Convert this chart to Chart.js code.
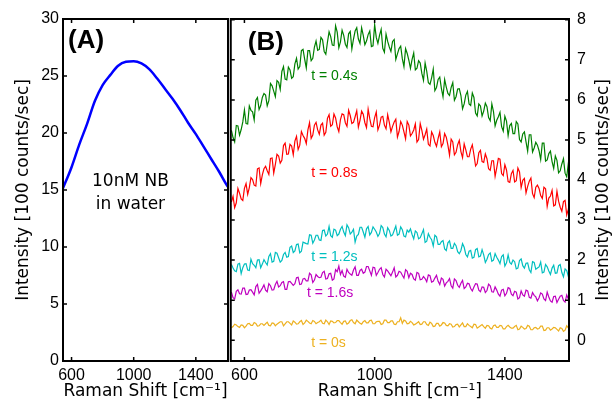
<!DOCTYPE html>
<html>
<head>
<meta charset="utf-8">
<script src="https://cdn.jsdelivr.net/npm/chart.js@4.4.1/dist/chart.umd.min.js"></script>
<style>
  body { margin: 0; background: #fff; }
  #wrap { position: relative; width: 612px; height: 407px; }
  canvas { position: absolute; top: 0; }
  #chartA { left: 0; }
  #chartB { left: 226px; }
</style>
</head>
<body>
<div id="wrap">
  <canvas id="chartA" width="230" height="407"></canvas>
  <canvas id="chartB" width="386" height="407"></canvas>
</div>
<script>
/* ---------------------------------- data ---------------------------------- */

// panel A : 10nM NB in water
let shiftA = [540, 600, 650, 700, 750, 800, 850, 900, 950, 1000, 1050, 1100,
    1150, 1200, 1250, 1300, 1350, 1400, 1450, 1500, 1550, 1600, 1620]
let blueA = [15.0, 17.0, 19.0, 20.8, 22.8, 24.2, 25.1, 25.9, 26.25, 26.3, 26.1, 25.6,
    24.8, 23.9, 23.0, 22.0, 20.9, 19.9, 18.8, 17.7, 16.6, 15.4, 15.0]

// panel B : spectra at different times (one value every 5 cm-1)
let shiftB = [560, 565, 570, 575, 580, 585, 590, 595, 600, 605, 610, 615, 620, 625, 630, 635, 640, 645, 650, 655,
    660, 665, 670, 675, 680, 685, 690, 695, 700, 705, 710, 715, 720, 725, 730, 735, 740, 745, 750, 755,
    760, 765, 770, 775, 780, 785, 790, 795, 800, 805, 810, 815, 820, 825, 830, 835, 840, 845, 850, 855,
    860, 865, 870, 875, 880, 885, 890, 895, 900, 905, 910, 915, 920, 925, 930, 935, 940, 945, 950, 955,
    960, 965, 970, 975, 980, 985, 990, 995, 1000, 1005, 1010, 1015, 1020, 1025, 1030, 1035, 1040, 1045, 1050, 1055,
    1060, 1065, 1070, 1075, 1080, 1085, 1090, 1095, 1100, 1105, 1110, 1115, 1120, 1125, 1130, 1135, 1140, 1145, 1150, 1155,
    1160, 1165, 1170, 1175, 1180, 1185, 1190, 1195, 1200, 1205, 1210, 1215, 1220, 1225, 1230, 1235, 1240, 1245, 1250, 1255,
    1260, 1265, 1270, 1275, 1280, 1285, 1290, 1295, 1300, 1305, 1310, 1315, 1320, 1325, 1330, 1335, 1340, 1345, 1350, 1355,
    1360, 1365, 1370, 1375, 1380, 1385, 1390, 1395, 1400, 1405, 1410, 1415, 1420, 1425, 1430, 1435, 1440, 1445, 1450, 1455,
    1460, 1465, 1470, 1475, 1480, 1485, 1490, 1495, 1500, 1505, 1510, 1515, 1520, 1525, 1530, 1535, 1540, 1545, 1550, 1555,
    1560, 1565, 1570, 1575, 1580, 1585, 1590, 1595, 1600]

let t04 = [5.24, 5.06, 4.95, 5.36, 5.35, 5.12, 5.26, 5.45, 5.75, 5.41, 5.40, 5.85, 5.74, 5.70, 5.50, 5.99, 6.06, 5.76, 5.86, 6.06,
    6.16, 6.12, 5.85, 5.98, 6.41, 6.35, 6.22, 6.08, 6.48, 6.44, 6.26, 6.71, 6.83, 6.52, 6.50, 6.82, 6.75, 6.54, 6.58, 6.90,
    7.04, 6.77, 6.83, 7.23, 7.26, 7.02, 6.80, 7.23, 7.23, 6.98, 7.04, 7.32, 7.47, 7.24, 7.26, 7.56, 7.50, 7.21, 7.14, 7.44,
    7.70, 7.58, 7.37, 7.36, 7.85, 7.69, 7.30, 7.45, 7.74, 7.61, 7.39, 7.31, 7.65, 7.71, 7.27, 7.52, 7.72, 7.80, 7.52, 7.41,
    7.80, 7.61, 7.38, 7.47, 7.63, 7.72, 7.33, 7.35, 7.88, 7.56, 7.41, 7.61, 7.76, 7.29, 7.19, 7.64, 7.46, 7.32, 7.21, 7.46,
    7.51, 7.01, 7.15, 7.28, 7.34, 7.03, 6.83, 7.28, 7.16, 6.99, 6.79, 7.01, 7.17, 6.75, 6.79, 6.98, 6.92, 6.66, 6.49, 6.92,
    6.71, 6.43, 6.39, 6.55, 6.77, 6.23, 6.31, 6.51, 6.57, 6.29, 6.08, 6.51, 6.32, 6.16, 6.11, 6.31, 6.43, 5.99, 6.08, 6.27,
    6.28, 6.11, 5.78, 5.90, 6.12, 6.21, 5.90, 5.86, 6.17, 6.06, 5.67, 5.60, 5.90, 5.85, 5.60, 5.72, 5.92, 5.83, 5.56, 5.48,
    5.90, 5.71, 5.35, 5.49, 5.58, 5.69, 5.33, 5.22, 5.59, 5.47, 5.11, 5.36, 5.41, 5.16, 5.16, 5.46, 5.40, 5.01, 4.95, 5.15,
    5.20, 4.95, 4.72, 5.13, 5.13, 4.70, 4.80, 4.94, 4.87, 4.73, 4.51, 4.92, 4.92, 4.47, 4.50, 4.66, 4.72, 4.46, 4.29, 4.60,
    4.49, 4.18, 4.23, 4.40, 4.53, 4.17, 4.08, 4.42, 4.31]

let t08 = [3.45, 3.59, 3.31, 3.43, 3.79, 3.67, 3.53, 3.49, 3.79, 3.91, 3.64, 3.81, 4.06, 4.01, 3.87, 3.85, 4.28, 4.30, 3.91, 4.13,
    4.28, 4.34, 4.23, 4.14, 4.54, 4.55, 4.17, 4.39, 4.64, 4.60, 4.42, 4.49, 4.86, 4.92, 4.64, 4.65, 4.89, 4.85, 4.63, 4.97,
    5.09, 4.76, 4.87, 5.21, 5.11, 5.04, 4.91, 5.25, 5.43, 5.04, 5.12, 5.37, 5.44, 5.25, 5.14, 5.37, 5.42, 5.12, 5.19, 5.54,
    5.63, 5.34, 5.38, 5.65, 5.55, 5.33, 5.21, 5.51, 5.65, 5.63, 5.43, 5.34, 5.74, 5.61, 5.41, 5.44, 5.58, 5.73, 5.32, 5.49,
    5.72, 5.64, 5.43, 5.31, 5.77, 5.53, 5.34, 5.33, 5.56, 5.70, 5.25, 5.37, 5.57, 5.59, 5.37, 5.28, 5.63, 5.44, 5.20, 5.34,
    5.45, 5.52, 5.07, 5.21, 5.46, 5.37, 5.20, 5.03, 5.46, 5.37, 5.10, 5.16, 5.25, 5.40, 4.95, 5.01, 5.41, 5.24, 5.02, 5.13,
    5.27, 4.89, 4.85, 5.20, 5.11, 4.94, 4.84, 5.04, 5.20, 4.83, 4.91, 5.16, 5.07, 4.87, 4.62, 5.02, 4.95, 4.63, 4.69, 4.88,
    4.99, 4.71, 4.56, 4.90, 4.75, 4.58, 4.58, 4.77, 4.88, 4.63, 4.35, 4.41, 4.68, 4.74, 4.46, 4.44, 4.65, 4.53, 4.28, 4.24,
    4.48, 4.48, 4.09, 4.30, 4.54, 4.52, 4.16, 4.11, 4.38, 4.25, 3.96, 3.94, 4.16, 4.24, 3.95, 3.98, 4.30, 4.20, 3.81, 3.99,
    4.04, 3.68, 3.84, 3.97, 4.05, 3.66, 3.56, 3.82, 3.87, 3.79, 3.61, 3.54, 3.82, 3.78, 3.34, 3.55, 3.60, 3.74, 3.35, 3.38,
    3.72, 3.47, 3.32, 3.22, 3.46, 3.49, 3.13, 3.27, 3.46]

let t12 = [1.89, 1.80, 1.73, 1.71, 1.90, 1.92, 1.66, 1.81, 1.90, 1.91, 1.75, 1.74, 2.02, 1.91, 1.87, 1.81, 2.00, 2.01, 1.81, 1.90,
    2.01, 1.94, 1.88, 2.09, 2.16, 1.95, 1.97, 2.19, 2.17, 2.06, 1.95, 1.99, 2.14, 2.19, 2.07, 2.09, 2.32, 2.35, 2.19, 2.23,
    2.39, 2.40, 2.18, 2.22, 2.45, 2.43, 2.41, 2.40, 2.63, 2.62, 2.42, 2.50, 2.62, 2.62, 2.50, 2.49, 2.74, 2.75, 2.60, 2.65,
    2.84, 2.61, 2.57, 2.77, 2.75, 2.61, 2.65, 2.77, 2.84, 2.70, 2.61, 2.88, 2.81, 2.65, 2.70, 2.77, 2.45, 2.60, 2.64, 2.82,
    2.82, 2.70, 2.57, 2.78, 2.84, 2.63, 2.69, 2.83, 2.77, 2.70, 2.59, 2.66, 2.86, 2.81, 2.65, 2.58, 2.81, 2.74, 2.60, 2.63,
    2.74, 2.85, 2.62, 2.65, 2.83, 2.76, 2.60, 2.58, 2.75, 2.70, 2.78, 2.64, 2.53, 2.73, 2.69, 2.53, 2.56, 2.66, 2.76, 2.44,
    2.47, 2.66, 2.57, 2.51, 2.35, 2.62, 2.58, 2.39, 2.39, 2.46, 2.49, 2.28, 2.24, 2.43, 2.48, 2.29, 2.29, 2.42, 2.36, 2.21,
    2.16, 2.24, 2.41, 2.32, 2.14, 2.08, 2.22, 2.24, 2.05, 2.07, 2.26, 2.29, 2.08, 2.10, 2.26, 2.13, 1.94, 2.02, 2.14, 2.18,
    1.97, 2.00, 2.16, 2.07, 2.00, 1.91, 2.09, 2.13, 1.85, 1.93, 2.13, 1.94, 1.90, 2.00, 1.96, 1.78, 1.80, 1.99, 2.03, 1.86,
    1.80, 1.92, 1.93, 1.76, 1.69, 1.96, 1.94, 1.77, 1.80, 1.83, 1.95, 1.68, 1.70, 1.89, 1.83, 1.73, 1.64, 1.80, 1.87, 1.67,
    1.68, 1.86, 1.89, 1.69, 1.58, 1.78, 1.74, 1.59, 1.62]

let t16 = [1.20, 1.06, 1.03, 1.22, 1.26, 1.16, 1.15, 1.30, 1.30, 1.14, 1.15, 1.25, 1.26, 1.20, 1.13, 1.34, 1.39, 1.17, 1.23, 1.30,
    1.38, 1.25, 1.21, 1.41, 1.36, 1.25, 1.26, 1.39, 1.47, 1.33, 1.36, 1.44, 1.46, 1.27, 1.27, 1.46, 1.47, 1.42, 1.37, 1.41,
    1.56, 1.57, 1.39, 1.40, 1.53, 1.54, 1.48, 1.48, 1.67, 1.63, 1.44, 1.50, 1.64, 1.59, 1.56, 1.57, 1.69, 1.72, 1.53, 1.54,
    1.66, 1.67, 1.50, 1.53, 1.76, 1.71, 1.85, 1.64, 1.74, 1.60, 1.57, 1.77, 1.69, 1.65, 1.62, 1.75, 1.83, 1.62, 1.62, 1.74,
    1.77, 1.67, 1.70, 1.84, 1.84, 1.73, 1.62, 1.82, 1.81, 1.62, 1.69, 1.77, 1.81, 1.64, 1.58, 1.77, 1.73, 1.67, 1.61, 1.70,
    1.81, 1.58, 1.62, 1.72, 1.70, 1.62, 1.55, 1.76, 1.72, 1.56, 1.67, 1.64, 1.53, 1.50, 1.69, 1.67, 1.51, 1.52, 1.59, 1.54,
    1.46, 1.63, 1.61, 1.45, 1.47, 1.55, 1.62, 1.47, 1.39, 1.55, 1.52, 1.35, 1.43, 1.47, 1.54, 1.36, 1.30, 1.53, 1.49, 1.37,
    1.32, 1.42, 1.49, 1.29, 1.33, 1.42, 1.41, 1.29, 1.23, 1.33, 1.41, 1.40, 1.25, 1.21, 1.33, 1.32, 1.19, 1.24, 1.40, 1.36,
    1.21, 1.20, 1.33, 1.25, 1.15, 1.10, 1.25, 1.27, 1.11, 1.17, 1.31, 1.29, 1.15, 1.11, 1.22, 1.20, 1.03, 1.06, 1.23, 1.13,
    1.10, 1.25, 1.23, 1.07, 1.05, 1.19, 1.12, 1.08, 0.98, 1.06, 1.18, 1.15, 1.03, 0.99, 1.20, 1.08, 0.98, 0.95, 1.09, 1.10,
    0.94, 1.02, 1.10, 1.12, 0.99, 0.95, 1.13, 1.03, 0.91]

let t0 = [0.31, 0.34, 0.40, 0.38, 0.34, 0.32, 0.38, 0.37, 0.31, 0.35, 0.41, 0.42, 0.37, 0.37, 0.44, 0.42, 0.35, 0.36, 0.41, 0.41,
    0.37, 0.41, 0.45, 0.37, 0.36, 0.43, 0.42, 0.36, 0.40, 0.43, 0.46, 0.46, 0.36, 0.41, 0.46, 0.46, 0.42, 0.38, 0.48, 0.45,
    0.40, 0.41, 0.46, 0.49, 0.39, 0.43, 0.50, 0.47, 0.43, 0.41, 0.49, 0.47, 0.41, 0.44, 0.46, 0.50, 0.42, 0.41, 0.50, 0.46,
    0.39, 0.48, 0.47, 0.43, 0.44, 0.49, 0.49, 0.44, 0.40, 0.47, 0.48, 0.40, 0.43, 0.49, 0.51, 0.44, 0.41, 0.50, 0.46, 0.42,
    0.40, 0.46, 0.49, 0.43, 0.43, 0.49, 0.50, 0.41, 0.41, 0.46, 0.47, 0.47, 0.39, 0.41, 0.50, 0.50, 0.44, 0.44, 0.48, 0.48,
    0.40, 0.39, 0.46, 0.46, 0.56, 0.42, 0.50, 0.48, 0.41, 0.42, 0.47, 0.44, 0.38, 0.40, 0.43, 0.46, 0.39, 0.40, 0.46, 0.46,
    0.39, 0.37, 0.45, 0.42, 0.34, 0.35, 0.42, 0.42, 0.35, 0.38, 0.44, 0.43, 0.37, 0.36, 0.41, 0.40, 0.33, 0.34, 0.39, 0.40,
    0.33, 0.38, 0.43, 0.34, 0.34, 0.41, 0.37, 0.34, 0.31, 0.40, 0.39, 0.30, 0.33, 0.36, 0.39, 0.34, 0.30, 0.37, 0.36, 0.30,
    0.28, 0.36, 0.38, 0.32, 0.32, 0.37, 0.36, 0.28, 0.28, 0.34, 0.37, 0.33, 0.30, 0.30, 0.34, 0.37, 0.26, 0.28, 0.35, 0.32,
    0.28, 0.29, 0.37, 0.35, 0.26, 0.26, 0.31, 0.32, 0.28, 0.29, 0.35, 0.35, 0.24, 0.25, 0.31, 0.31, 0.25, 0.28, 0.32, 0.31,
    0.27, 0.23, 0.31, 0.29, 0.22, 0.25, 0.36, 0.31, 0.25]

// axis ticks
let xTicks = [600, 1000, 1400]
let yTicksA = [0, 5, 10, 15, 20, 25, 30]
let yTicksB = [0, 1, 2, 3, 4, 5, 6, 7, 8]

// series names in panel B and where the names sit (data units)
let seriesNames = ['t = 0.4s', 't = 0.8s', 't = 1.2s', 't = 1.6s', 't = 0s']
let nameX = [805, 805, 805, 792, 805]
let nameY = [6.6, 4.18, 2.08, 1.18, -0.07]

/* --------------------------------- styling -------------------------------- */

let colorsB = ['#008000', '#ff0000', '#00bfbf', '#bf00bf', '#edb120']
let tickFont = { family: "'Liberation Sans', Arial, sans-serif", size: 16 }
let titleFont = { family: "'DejaVu Sans', sans-serif", size: 17 }

Chart.defaults.color = '#000'

function toPoints(xs, ys) {
    return xs.map((x, i) => ({ x: x, y: ys[i] }))
}

function setTicks(list) {
    return function (scale) {
        scale.ticks = list.map(v => ({ value: v }))
    }
}

// box round the plot + inward tick marks on all four sides
function drawFrame(chart) {
    let ctx = chart.ctx
    let a = chart.chartArea
    let sx = chart.scales.x
    let sy = chart.scales.y
    ctx.save()
    ctx.strokeStyle = '#000'
    ctx.lineWidth = 2
    ctx.strokeRect(a.left, a.top, a.right - a.left, a.bottom - a.top)
    ctx.lineWidth = 1.5
    ctx.beginPath()
    sx.ticks.forEach(t => {
        let px = sx.getPixelForValue(t.value)
        ctx.moveTo(px, a.bottom); ctx.lineTo(px, a.bottom - 4)
        ctx.moveTo(px, a.top); ctx.lineTo(px, a.top + 4)
    })
    sy.ticks.forEach(t => {
        let py = sy.getPixelForValue(t.value)
        ctx.moveTo(a.left, py); ctx.lineTo(a.left + 4, py)
        ctx.moveTo(a.right, py); ctx.lineTo(a.right - 4, py)
    })
    ctx.stroke()
    ctx.restore()
}

/* --------------------------------- panel A -------------------------------- */

let frameA = {
    id: 'frameA',
    afterDatasetsDraw(chart) {
        drawFrame(chart)
        let ctx = chart.ctx
        let a = chart.chartArea
        let sx = chart.scales.x
        let sy = chart.scales.y
        ctx.save()
        ctx.fillStyle = '#000'
        ctx.font = "bold 26px 'Liberation Sans', Arial, sans-serif"
        ctx.textBaseline = 'middle'
        ctx.textAlign = 'left'
        ctx.fillText('(A)', a.left + 5, 41)
        ctx.font = "17px 'DejaVu Sans', sans-serif"
        ctx.textAlign = 'center'
        ctx.fillText('10nM NB', sx.getPixelForValue(979), sy.getPixelForValue(15.7))
        ctx.fillText('in water', sx.getPixelForValue(979), sy.getPixelForValue(13.7))
        ctx.restore()
    }
}

new Chart(document.querySelector('#chartA'), {
    type: 'line',
    data: {
        datasets: [{
            data: toPoints(shiftA, blueA),
            borderColor: '#0000ff',
            borderWidth: 2.5,
            pointRadius: 0,
            cubicInterpolationMode: 'monotone'
        }]
    },
    options: {
        responsive: false,
        animation: false,
        layout: { padding: { top: 19, right: 2, left: 0, bottom: 0 } },
        plugins: { legend: { display: false }, tooltip: { enabled: false } },
        scales: {
            x: {
                type: 'linear', min: 545, max: 1607,
                afterBuildTicks: setTicks(xTicks),
                afterFit: s => { s.height = 46 },
                grid: { display: false, drawTicks: false },
                border: { display: false },
                ticks: { font: tickFont, padding: 5, maxRotation: 0, autoSkip: false, callback: v => String(v) },
                title: { display: true, text: 'Raman Shift [cm\u207B\u00B9]', font: titleFont, padding: { top: 0, bottom: 5 } }
            },
            y: {
                min: 0, max: 30,
                afterBuildTicks: setTicks(yTicksA),
                afterFit: s => { s.width = 63 },
                grid: { display: false, drawTicks: false },
                border: { display: false },
                ticks: { font: tickFont, padding: 4, callback: v => String(v) },
                title: { display: true, text: 'Intensity [100 counts/sec]', font: titleFont, padding: { top: 13, bottom: 0 } }
            }
        }
    },
    plugins: [frameA]
})

/* --------------------------------- panel B -------------------------------- */

let frameB = {
    id: 'frameB',
    afterDatasetsDraw(chart) {
        drawFrame(chart)
        let ctx = chart.ctx
        let a = chart.chartArea
        let sx = chart.scales.x
        let sy = chart.scales.y
        ctx.save()
        ctx.fillStyle = '#000'
        ctx.font = "bold 26px 'Liberation Sans', Arial, sans-serif"
        ctx.textBaseline = 'middle'
        ctx.textAlign = 'left'
        ctx.fillText('(B)', a.left + 17, 43)
        ctx.font = "14px 'Liberation Sans', Arial, sans-serif"
        seriesNames.forEach((name, i) => {
            ctx.fillStyle = colorsB[i]
            ctx.fillText(name, sx.getPixelForValue(nameX[i]), sy.getPixelForValue(nameY[i]))
        })
        // right axis title, reading bottom to top
        ctx.fillStyle = '#000'
        ctx.font = "17px 'DejaVu Sans', sans-serif"
        ctx.textAlign = 'center'
        ctx.translate(378, (a.top + a.bottom) / 2)
        ctx.rotate(-Math.PI / 2)
        ctx.fillText('Intensity [100 counts/sec]', 0, 0)
        ctx.restore()
    }
}

let seriesB = [t04, t08, t12, t16, t0]

new Chart(document.querySelector('#chartB'), {
    type: 'line',
    data: {
        datasets: seriesB.map((ys, i) => ({
            data: toPoints(shiftB, ys),
            borderColor: colorsB[i],
            borderWidth: 1.2,
            pointRadius: 0
        }))
    },
    options: {
        responsive: false,
        animation: false,
        layout: { padding: { top: 19, right: 0, left: 2, bottom: 0 } },
        plugins: { legend: { display: false }, tooltip: { enabled: false } },
        scales: {
            x: {
                type: 'linear', min: 558, max: 1597,
                afterBuildTicks: setTicks(xTicks),
                afterFit: s => { s.height = 46 },
                grid: { display: false, drawTicks: false },
                border: { display: false },
                ticks: { font: tickFont, padding: 5, maxRotation: 0, autoSkip: false, callback: v => String(v) },
                title: { display: true, text: 'Raman Shift [cm\u207B\u00B9]', font: titleFont, padding: { top: 0, bottom: 5 } }
            },
            y: {
                position: 'right',
                min: -0.52, max: 8.02,
                afterBuildTicks: setTicks(yTicksB),
                afterFit: s => { s.width = 43 },
                grid: { display: false, drawTicks: false },
                border: { display: false },
                ticks: { font: tickFont, padding: 8, callback: v => String(v) }
            }
        }
    },
    plugins: [frameB]
})
</script>
</body>
</html>
